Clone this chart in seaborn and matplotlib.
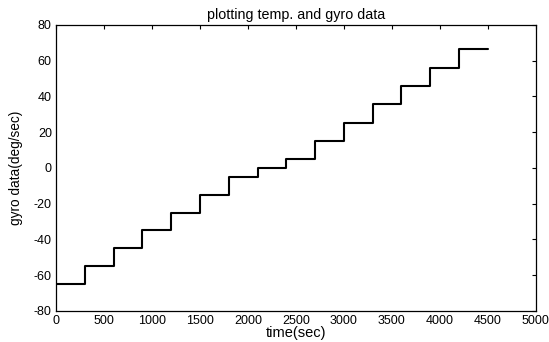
import numpy as np
import pandas as pd
import matplotlib
matplotlib.use("Agg")
import matplotlib.pyplot as plt
import seaborn as sns

# step start times (sec) and gyro levels (deg/sec)
step_times = [0, 300, 600, 900, 1200, 1500, 1800, 2100, 2400, 2700, 3000, 3300, 3600, 3900, 4200, 4500]
gyro_levels = [-65, -55, -45, -35, -25, -15, -5, 0, 5, 15, 25.3, 35.6, 45.9, 56.1, 66.4, 66.4]
x_ticks = [0, 500, 1000, 1500, 2000, 2500, 3000, 3500, 4000, 4500, 5000]
y_ticks = [-80, -60, -40, -20, 0, 20, 40, 60, 80]

df = pd.DataFrame({"time": step_times, "gyro": gyro_levels})

sns.set_style("white")
plt.rcParams['font.family'] = ['Liberation Sans', 'DejaVu Sans']
plt.rcParams['axes.unicode_minus'] = False
plt.rcParams['text.color'] = 'black'
plt.rcParams['axes.labelcolor'] = 'black'

fig = plt.figure(figsize=(5.49, 3.42), dpi=100)
ax = fig.add_axes([0.102, 0.091, 0.874, 0.836])
sns.lineplot(data=df, x="time", y="gyro", ax=ax, color="black", linewidth=1.5,
             drawstyle="steps-post", estimator=None, sort=False)

ax.set_xlim(0, 5000)
ax.set_ylim(-80, 80)
ax.set_xticks(x_ticks)
ax.set_yticks(y_ticks)
ax.tick_params(direction="in", length=3, width=0.8, labelsize=9, top=True, right=True,
               colors="black", pad=3)
for s in ax.spines.values():
    s.set_visible(True)
    s.set_color("black")
    s.set_linewidth(0.9)
ax.set_xlabel("time(sec)", fontsize=10.5, labelpad=-1, color="black")
ax.set_ylabel("gyro data(deg/sec)", fontsize=9.8, labelpad=8, color="black")
ax.set_title("plotting temp. and gyro data", fontsize=10.3, pad=4, color="black")

fig.savefig("out.png", dpi=100, facecolor="white")
